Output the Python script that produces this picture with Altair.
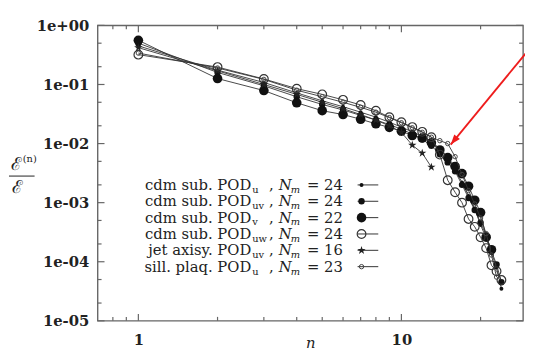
import altair as alt
import pandas as pd

# ---------------- data ----------------
cdm_u = [0.45, 0.175, 0.108, 0.072, 0.053, 0.042, 0.034, 0.028, 0.023, 0.019,
         0.0158, 0.0132, 0.0108, 0.0082, 0.0058, 0.0036, 0.0022, 0.0013, 0.00078,
         0.00042, 0.00025, 0.00014, 0.00008, 0.000035]
cdm_uv = [0.50, 0.16, 0.095, 0.062, 0.046, 0.037, 0.030, 0.025, 0.021, 0.0175,
          0.0145, 0.0118, 0.0092, 0.0066, 0.0048, 0.0034, 0.0020, 0.0012, 0.00075,
          0.00046, 0.00028, 0.00015, 0.00009, 0.000045]
cdm_v = [0.56, 0.126, 0.079, 0.049, 0.036, 0.031, 0.0258, 0.0216, 0.0188, 0.0162,
         0.0137, 0.0124, 0.0103, 0.0078, 0.0058, 0.0041, 0.0031, 0.0019, 0.0011,
         0.00068, 0.00026, 0.00016]
cdm_uw = [0.32, 0.197, 0.124, 0.085, 0.068, 0.055, 0.045, 0.036, 0.028, 0.023,
          0.019, 0.0158, 0.0128, 0.0065, 0.0024, 0.0015, 0.00100, 0.00053, 0.00039,
          0.00026, 0.00017, 0.000087, 0.000069, 0.000049]
jet_uv = [0.42, 0.17, 0.10, 0.068, 0.05, 0.039, 0.031, 0.025, 0.020, 0.0155,
          0.0094, 0.0069, 0.0040]
sill_u = [0.34, 0.19, 0.122, 0.08, 0.062, 0.050, 0.041, 0.034, 0.0275, 0.0225,
          0.0185, 0.0155, 0.0128, 0.0112, 0.0100, 0.0060, 0.0030, 0.0016, 0.00095,
          0.00055, 0.00030, 0.00013, 0.000055]

legend_main = ["cdm sub. POD", "cdm sub. POD", "cdm sub. POD", "cdm sub. POD",
               "jet axisy. POD", "sill. plaq. POD"]
legend_sub = ["u", "uv", "v", "uw", "uv", "u"]
legend_nm = ["= 24", "= 24", "= 22", "= 24", "= 16", "= 23"]

y_major = [1, 1e-1, 1e-2, 1e-3, 1e-4, 1e-5]
y_minor = [5e-1, 2e-1, 5e-2, 2e-2, 5e-3, 2e-3, 5e-4, 2e-4, 5e-5, 2e-5]
x_major = [1, 10]
x_minor = [0.8, 0.9, 2, 3, 4, 5, 6, 7, 8, 9, 20]

arrow_tip = [15.4, 0.0096]
arrow_tail = [34.0, 0.70]

# ---------------- layout / style ----------------
W, H = 432, 300
SERIF = "DejaVu Serif"
LINE = "#333333"
FRAME = "#666666"
RED = "#ee1c1c"
STAR = ("M0,-1L0.2245,-0.309L0.951,-0.309L0.363,0.118L0.588,0.809L0,0.382"
        "L-0.588,0.809L-0.363,0.118L-0.951,-0.309L-0.2245,-0.309Z")
HEAD = "M0,0L0.36,1L-0.36,1Z"

xs = alt.Scale(type="log", domain=[0.7, 29], nice=False)
ys = alt.Scale(type="log", domain=[1e-5, 1], nice=False)

x_axis = alt.Axis(values=x_major, format="d", ticks=False, domain=False, grid=False,
                  labelFont=SERIF, labelFontWeight="bold", labelFontSize=15,
                  labelColor="#222", labelPadding=12, title="n", titleFont=SERIF,
                  titleFontStyle="italic", titleFontWeight="normal", titleFontSize=15,
                  titleColor="#222", titleY=27, titleBaseline="alphabetic")
y_axis = alt.Axis(values=y_major, ticks=False, domain=False, grid=False,
                  labelExpr="datum.value >= 1 ? '1e+00' : '1e-0' + round(-log(datum.value)/LN10)",
                  labelFont=SERIF, labelFontWeight="bold", labelFontSize=15,
                  labelColor="#222", labelPadding=9, labelBaseline="middle", title="")

def X(field="n"):
    return alt.X(f"{field}:Q", scale=xs, axis=x_axis, title="n")

def Y(field="v"):
    return alt.Y(f"{field}:Q", scale=ys, axis=y_axis, title="")

series = [
    ("u", cdm_u, dict(shape="circle", filled=True, size=16, color="#111")),
    ("uv", cdm_uv, dict(shape="circle", filled=True, size=42, color="#111")),
    ("v", cdm_v, dict(shape="circle", filled=True, size=95, color="#111")),
    ("uw", cdm_uw, dict(shape="circle", filled=False, size=78, color="#333", strokeWidth=1.2)),
    ("jet", jet_uv, dict(shape=STAR, filled=True, size=80, color="#222")),
    ("sill", sill_u, dict(shape="circle", filled=False, size=20, color="#444", strokeWidth=1)),
]

one = pd.DataFrame({"k": [0]})
layers = []

# series
for key, vals, style in series:
    d = pd.DataFrame({"n": list(range(1, len(vals) + 1)), "v": vals})
    line = alt.Chart(d).mark_line(color=LINE, strokeWidth=0.9).encode(x=X(), y=Y())
    pts = alt.Chart(d).mark_point(opacity=1, **style).encode(x=X(), y=Y())
    layers += [line, pts]

# frame ticks (inward)
def ticks_y(vals, length):
    d = pd.DataFrame({"v": vals})
    left = alt.Chart(d).mark_rule(color=FRAME, strokeWidth=1.2).encode(
        y=Y(), x=alt.value(0), x2=alt.value(length))
    right = alt.Chart(d).mark_rule(color=FRAME, strokeWidth=1.2).encode(
        y=Y(), x=alt.value(W - length), x2=alt.value(W))
    return [left, right]

def ticks_x(vals, length):
    d = pd.DataFrame({"n": vals})
    bottom = alt.Chart(d).mark_rule(color=FRAME, strokeWidth=1.2).encode(
        x=X(), y=alt.value(H - length), y2=alt.value(H))
    top = alt.Chart(d).mark_rule(color=FRAME, strokeWidth=1.2).encode(
        x=X(), y=alt.value(0), y2=alt.value(length))
    return [bottom, top]

layers += ticks_y(y_major, 7) + ticks_y(y_minor, 4) + ticks_x(x_major, 7) + ticks_x(x_minor, 4)

# legend (inside the plot)
LY0, LDY = 162.0, 16.6
for i, (key, vals, style) in enumerate(series):
    yy = LY0 + i * LDY
    layers.append(alt.Chart(one).mark_rule(color=LINE, strokeWidth=1).encode(
        x=alt.value(264), x2=alt.value(285), y=alt.value(yy)))
    layers.append(alt.Chart(one).mark_point(opacity=1, **style).encode(
        x=alt.value(268), y=alt.value(yy)))

def txt(lines, x, y, align, size, style="normal"):
    return alt.Chart(one).mark_text(align=align, baseline="alphabetic", font=SERIF,
                                    fontSize=size, fontStyle=style, color="#222",
                                    lineHeight=LDY, text=lines).encode(
        x=alt.value(x), y=alt.value(y))

BASE = LY0 + 5
layers += [
    txt(legend_main, 156, BASE, "right", 15),
    txt(legend_sub, 157, BASE + 3, "left", 10),
    txt([","] * 6, 174, BASE, "left", 15),
    txt(["N"] * 6, 184, BASE, "left", 15, "italic"),
    txt(["m"] * 6, 196, BASE + 3, "left", 10, "italic"),
    txt(legend_nm, 249, BASE, "right", 15),
]

# y title as a fraction
layers += [
    alt.Chart(one).mark_text(text="ℰ", font=SERIF, fontSize=18, color="#222",
                             align="center", baseline="middle").encode(
        x=alt.value(-82), y=alt.value(142)),
    alt.Chart(one).mark_text(text="(n)", font=SERIF, fontSize=10, color="#222",
                             align="left", baseline="middle").encode(
        x=alt.value(-76), y=alt.value(136)),
    alt.Chart(one).mark_rule(color="#222", strokeWidth=1).encode(
        x=alt.value(-90), x2=alt.value(-64), y=alt.value(153)),
    alt.Chart(one).mark_text(text="ℰ", font=SERIF, fontSize=18, color="#222",
                             align="center", baseline="middle").encode(
        x=alt.value(-81), y=alt.value(165)),
]

# red arrow
arrow = pd.DataFrame({"n": [arrow_tip[0]], "v": [arrow_tip[1]],
                      "n2": [arrow_tail[0]], "v2": [arrow_tail[1]]})
layers += [
    alt.Chart(arrow).mark_rule(color=RED, strokeWidth=1.8).encode(
        x=X(), y=Y(), x2="n2:Q", y2="v2:Q"),
    alt.Chart(arrow).mark_point(shape=HEAD, filled=True, color=RED, opacity=1,
                                size=420, angle=219).encode(x=X(), y=Y()),
]

chart = alt.layer(*layers).properties(
    width=W, height=H, background="white",
    padding={"left": 91, "top": 15, "right": 2, "bottom": 30},
    autosize=alt.AutoSizeParams(type="none"),
).configure_view(stroke=FRAME, strokeWidth=1.4)

chart.save("out.html", embed_options={"renderer": "svg", "actions": False})
